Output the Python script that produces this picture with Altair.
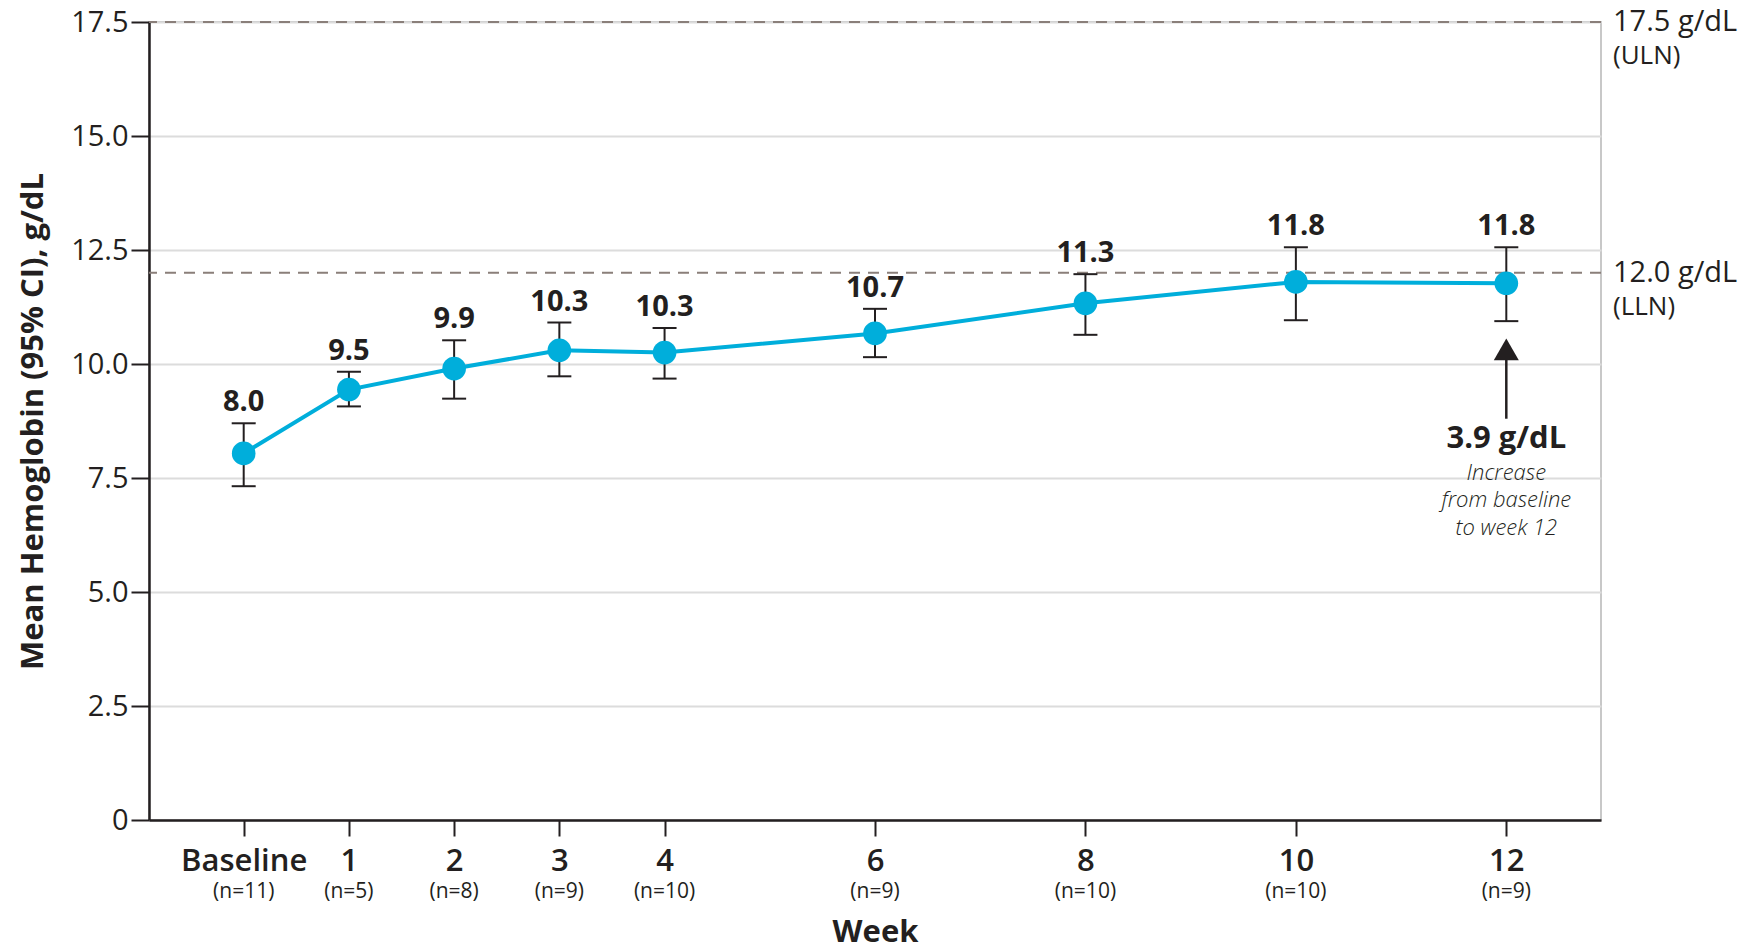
import altair as alt
import pandas as pd

# ---- data ----
weeks = [0, 1, 2, 3, 4, 6, 8, 10, 12]
means = [8.04, 9.44, 9.90, 10.30, 10.25, 10.67, 11.33, 11.80, 11.77]
ci_low = [7.32, 9.07, 9.24, 9.73, 9.68, 10.15, 10.64, 10.96, 10.94]
ci_high = [8.70, 9.83, 10.52, 10.91, 10.79, 11.21, 11.97, 12.56, 12.56]
value_labels = ["8.0", "9.5", "9.9", "10.3", "10.3", "10.7", "11.3", "11.8", "11.8"]
n_labels = ["(n=11)", "(n=5)", "(n=8)", "(n=9)", "(n=10)", "(n=9)", "(n=10)", "(n=10)", "(n=9)"]

ref_values = [17.5, 12.0]
ref_line1 = ["17.5 g/dL", "12.0 g/dL"]
ref_line2 = ["(ULN)", "(LLN)"]

annot_week = [12]
annot_head = [10.32]
annot_tail = [8.80]
annot_bold = ["3.9 g/dL"]
annot_bold_y = [8.36]
annot_lines = ["Increase", "from baseline", "to week 12"]
annot_lines_y = [7.62, 7.01, 6.40]

FONT = "Open Sans"
INK = "#231f20"
CYAN = "#00aedb"
DASH = "#8a7f7a"
W, H = 1452, 798

df = pd.DataFrame({"week": weeks, "mean": means, "lo": ci_low, "hi": ci_high,
                   "lab": value_labels, "n": n_labels})
refs = pd.DataFrame({"v": ref_values, "l1": ref_line1, "l2": ref_line2})
ann = pd.DataFrame({"week": annot_week, "head": annot_head, "tail": annot_tail,
                    "bold": annot_bold, "by": annot_bold_y})
ann_txt = pd.DataFrame({"week": annot_week * len(annot_lines), "t": annot_lines, "y": annot_lines_y})

xscale = alt.Scale(domain=[-0.9, 12.9], nice=False, zero=False)
yscale = alt.Scale(domain=[0, 17.5], nice=False)

xaxis = alt.Axis(values=weeks, title="Week", grid=False,
                 labelExpr="datum.value == 0 ? 'Baseline' : format(datum.value, 'd')",
                 labelFont=FONT, labelFontSize=31, labelFontWeight=600, labelColor=INK,
                 labelPadding=10, tickSize=16, tickWidth=2, tickColor=INK,
                 domainColor=INK, domainWidth=2.5,
                 titleFont=FONT, titleFontSize=31, titleFontWeight="bold", titleColor=INK,
                 titleY=112, titleBaseline="middle")
yaxis = alt.Axis(values=[0, 2.5, 5, 7.5, 10, 12.5, 15, 17.5],
                 title="Mean Hemoglobin (95% CI), g/dL",
                 labelExpr="datum.value == 0 ? '0' : format(datum.value, '.1f')",
                 labelFont=FONT, labelFontSize=29, labelColor=INK, labelPadding=3,
                 tickSize=18, tickWidth=2, tickColor=INK,
                 domainColor=INK, domainWidth=2.5,
                 grid=True, gridColor="#dcdcdc", gridWidth=2,
                 titleFont=FONT, titleFontSize=31, titleFontWeight="bold", titleColor=INK,
                 titleX=-116, titleY=H / 2, titleAngle=-90, titleAlign="center",
                 titleBaseline="middle")

base = alt.Chart(df)

axes_layer = base.mark_point(opacity=0).encode(
    x=alt.X("week:Q", scale=xscale, axis=xaxis),
    y=alt.Y("mean:Q", scale=yscale, axis=yaxis),
)

ref_rules = alt.Chart(refs).mark_rule(color=DASH, strokeWidth=2, strokeDash=[11, 8]).encode(
    y=alt.Y("v:Q", scale=yscale))
ref_t1 = alt.Chart(refs).mark_text(align="left", baseline="middle", font=FONT, fontSize=29,
                                   color=INK).encode(
    x=alt.value(W + 12), y=alt.Y("v:Q", scale=yscale), text="l1:N")
ref_t2 = alt.Chart(refs).mark_text(align="left", baseline="middle", font=FONT, fontSize=26,
                                   color=INK, dy=34).encode(
    x=alt.value(W + 12), y=alt.Y("v:Q", scale=yscale), text="l2:N")

err = base.mark_rule(color=INK, strokeWidth=2).encode(
    x=alt.X("week:Q", scale=xscale), y=alt.Y("lo:Q", scale=yscale), y2="hi:Q")
cap_hi = base.mark_rule(color=INK, strokeWidth=2, xOffset=-12, x2Offset=12).encode(
    x=alt.X("week:Q", scale=xscale), x2="week:Q", y=alt.Y("hi:Q", scale=yscale))
cap_lo = base.mark_rule(color=INK, strokeWidth=2, xOffset=-12, x2Offset=12).encode(
    x=alt.X("week:Q", scale=xscale), x2="week:Q", y=alt.Y("lo:Q", scale=yscale))

line = base.mark_line(color=CYAN, strokeWidth=4).encode(
    x=alt.X("week:Q", scale=xscale), y=alt.Y("mean:Q", scale=yscale))
pts = base.mark_circle(color=CYAN, opacity=1, size=560).encode(
    x=alt.X("week:Q", scale=xscale), y=alt.Y("mean:Q", scale=yscale))

vlabels = base.mark_text(font=FONT, fontSize=29, fontWeight="bold", color=INK,
                         baseline="alphabetic", dy=-12).encode(
    x=alt.X("week:Q", scale=xscale), y=alt.Y("hi:Q", scale=yscale), text="lab:N")

nlabels = base.mark_text(font=FONT, fontSize=21, color=INK, baseline="middle").encode(
    x=alt.X("week:Q", scale=xscale), y=alt.value(H + 72), text="n:N")

arrow_rule = alt.Chart(ann).mark_rule(color=INK, strokeWidth=2.5).encode(
    x=alt.X("week:Q", scale=xscale), y=alt.Y("tail:Q", scale=yscale), y2="head:Q")
arrow_head = alt.Chart(ann).mark_point(shape="triangle-up", filled=True, opacity=1,
                                       color=INK, size=625).encode(
    x=alt.X("week:Q", scale=xscale), y=alt.Y("head:Q", scale=yscale))
ann_bold = alt.Chart(ann).mark_text(font=FONT, fontSize=31, fontWeight="bold", color=INK,
                                    baseline="middle").encode(
    x=alt.X("week:Q", scale=xscale), y=alt.Y("by:Q", scale=yscale), text="bold:N")
ann_lines = alt.Chart(ann_txt).mark_text(font=FONT, fontSize=22, fontStyle="italic",
                                         fontWeight=300, color=INK, baseline="middle").encode(
    x=alt.X("week:Q", scale=xscale), y=alt.Y("y:Q", scale=yscale), text="t:N")

chart = alt.layer(
    axes_layer, ref_rules, ref_t1, ref_t2, err, cap_hi, cap_lo, line, pts, vlabels, nlabels,
    arrow_rule, arrow_head, ann_bold, ann_lines
).properties(
    width=W, height=H, autosize="none",
    padding={"left": 141, "top": 14, "right": 140, "bottom": 130},
).configure_view(stroke="#c8c8c8", strokeWidth=2)

chart.save("out.html", embed_options={"renderer": "svg", "actions": False})
